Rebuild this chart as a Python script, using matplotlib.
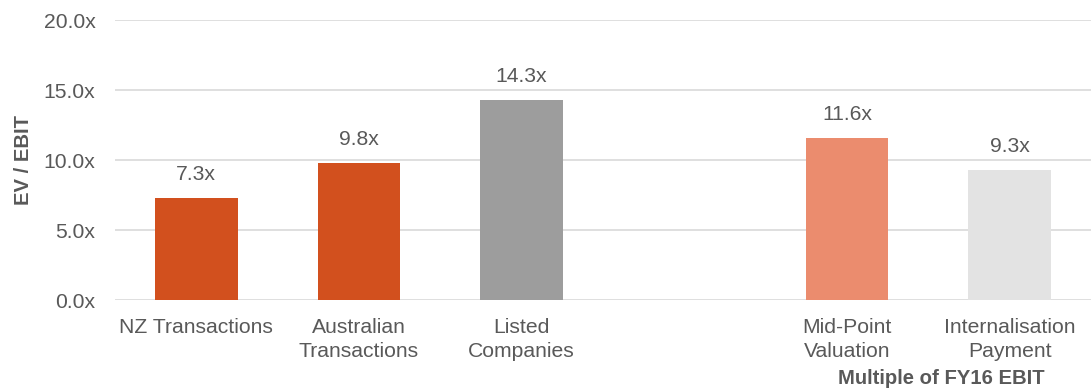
import matplotlib.pyplot as plt

categories = ["NZ Transactions", "Australian\nTransactions", "Listed\nCompanies", "", "Mid-Point\nValuation", "Internalisation\nPayment"]
values = [7.3, 9.8, 14.3, None, 11.6, 9.3]
labels = ["7.3x", "9.8x", "14.3x", "", "11.6x", "9.3x"]
colors = ["#D2501E", "#D2501E", "#9D9D9D", "#FFFFFF", "#EB8C6E", "#E3E3E3"]
yticks = [0, 5, 10, 15, 20]
ytick_labels = ["0.0x", "5.0x", "10.0x", "15.0x", "20.0x"]

plt.rcParams['font.family'] = ['Liberation Sans', 'DejaVu Sans']
fig = plt.figure(figsize=(10.91, 3.9), dpi=100)
ax = fig.add_axes([115/1091, 90/390, (1091-115)/1091, 280/390])

txt = "#595959"
fs = 15.2
for i, (v, lab, c) in enumerate(zip(values, labels, colors)):
    if v is None:
        continue
    ax.bar(i, v, width=0.51, color=c, zorder=3)
    ax.text(i, v + 1.65, lab, ha="center", va="center", fontsize=fs, color=txt)

ax.set_xlim(-0.5, 5.5)
ax.set_ylim(0, 20)
ax.set_yticks(yticks)
ax.set_yticklabels(ytick_labels, fontsize=fs, color=txt)
ax.set_xticks(range(len(categories)))
ax.set_xticklabels(categories, fontsize=fs, color=txt, linespacing=1.35)
ax.tick_params(axis="y", length=0, pad=14)
ax.tick_params(axis="x", length=0, pad=13)
ax.grid(axis="y", color="#D9D9D9", linewidth=1.2, zorder=0)
for s in ax.spines.values():
    s.set_visible(False)
ax.set_ylabel("EV / EBIT", fontsize=14.6, fontweight="bold", color=txt)
ax.yaxis.set_label_coords(-82/976, 0.5)

fig.text(941/1091, 1 - 378/390, "Multiple of FY16 EBIT", ha="center", va="center",
         fontsize=14.6, fontweight="bold", color=txt)

fig.savefig("out.png", dpi=100)
